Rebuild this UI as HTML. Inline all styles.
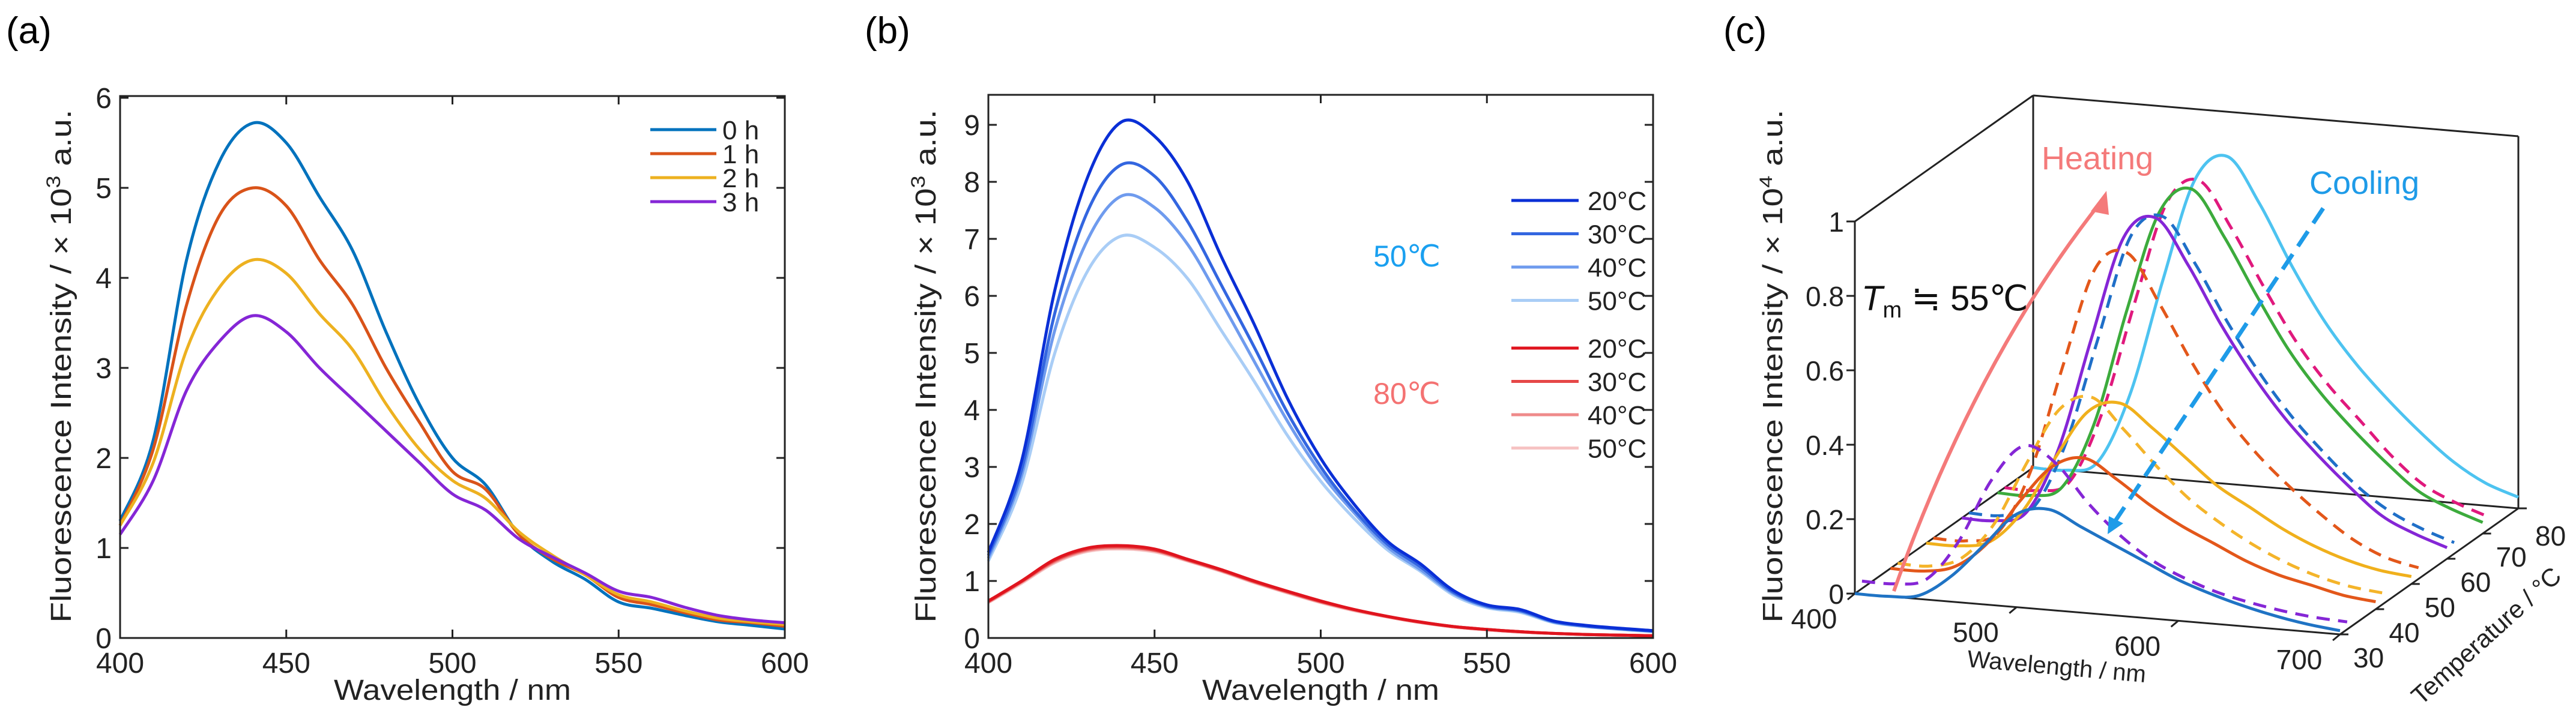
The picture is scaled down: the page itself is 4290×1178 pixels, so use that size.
<!DOCTYPE html>
<html><head><meta charset="utf-8"><style>
html,body{margin:0;padding:0;background:#fff;}
svg{display:block;font-family:"Liberation Sans",sans-serif;}
</style></head><body>
<svg id="fig" width="4290" height="1178" viewBox="0 0 4290 1178" xmlns="http://www.w3.org/2000/svg">
<rect width="4290" height="1178" fill="#fff"/>
<text x="10" y="72" font-size="62">(a)</text>
<text x="1440" y="72" font-size="62">(b)</text>
<text x="2870" y="72" font-size="62">(c)</text>
<g id="pa"></g>
<g id="pb"></g>
<g id="pc"></g>
</svg>
<script>
// ---------- Panel (a) data ----------
const aWavelengths = [400,410,420,430,440,450,460,470,480,490,500,510,520,530,540,550,560,570,580,590,600];
const aSeries0h = [1.3,2.2,4.2,5.3,5.72,5.5,4.9,4.3,3.4,2.6,2.0,1.7,1.15,0.85,0.65,0.4,0.33,0.25,0.18,0.14,0.1];
const aSeries1h = [1.25,2.1,3.7,4.7,5.0,4.8,4.2,3.7,3.0,2.4,1.85,1.65,1.15,0.88,0.7,0.45,0.37,0.28,0.2,0.17,0.13];
const aSeries2h = [1.25,1.95,3.2,3.9,4.2,4.05,3.6,3.2,2.6,2.1,1.75,1.55,1.18,0.92,0.7,0.48,0.4,0.3,0.22,0.18,0.15];
const aSeries3h = [1.15,1.75,2.75,3.3,3.58,3.4,3.0,2.65,2.3,1.95,1.6,1.42,1.1,0.9,0.72,0.52,0.45,0.34,0.25,0.2,0.17];
const aLegend = ["0 h","1 h","2 h","3 h"];
const aXTicks = [400,450,500,550,600];
const aYTicks = [0,1,2,3,4,5,6];
// ---------- Panel (b) data ----------
const bWavelengths = [400,410,420,430,440,450,460,470,480,490,500,510,520,530,540,550,560,570,580,590,600];
const b50_20 = [1.5,3.1,6.1,8.1,9.05,8.8,8.0,6.7,5.5,4.2,3.15,2.35,1.7,1.3,0.83,0.58,0.5,0.3,0.22,0.17,0.13];
const b50_30 = [1.45,2.95,5.7,7.5,8.3,8.1,7.3,6.2,5.1,3.95,3.0,2.25,1.65,1.25,0.8,0.56,0.48,0.29,0.21,0.16,0.12];
const b50_40 = [1.4,2.85,5.4,7.0,7.75,7.55,6.9,5.9,4.85,3.8,2.9,2.2,1.6,1.2,0.78,0.55,0.47,0.28,0.2,0.16,0.12];
const b50_50 = [1.35,2.7,5.0,6.45,7.05,6.85,6.3,5.4,4.5,3.55,2.75,2.1,1.55,1.17,0.75,0.53,0.45,0.27,0.2,0.15,0.11];
const b80_20 = [0.65,1.0,1.38,1.58,1.62,1.56,1.38,1.2,1.0,0.82,0.65,0.5,0.38,0.28,0.2,0.15,0.11,0.08,0.06,0.05,0.04];
const b80_30 = [0.64,0.99,1.36,1.56,1.6,1.54,1.37,1.19,0.99,0.81,0.64,0.5,0.38,0.28,0.2,0.15,0.11,0.08,0.06,0.05,0.04];
const b80_40 = [0.63,0.98,1.34,1.54,1.58,1.53,1.36,1.18,0.98,0.8,0.63,0.49,0.37,0.27,0.2,0.15,0.11,0.08,0.06,0.05,0.04];
const b80_50 = [0.62,0.96,1.32,1.52,1.56,1.51,1.35,1.17,0.97,0.79,0.62,0.48,0.37,0.27,0.19,0.14,0.1,0.08,0.06,0.05,0.04];
const bLegend = ["20°C","30°C","40°C","50°C"];
const bXTicks = [400,450,500,550,600];
const bYTicks = [0,1,2,3,4,5,6,7,8,9];
// ---------- Panel (c) data ----------
const cWavelengths = [400,420,440,460,480,500,520,540,560,580,600,620,640,660,680,700];
const cTemps = [80,70,70,60,60,50,50,40,40,30,30];
const cH80 = [0,0,0.03,0.22,0.53,0.81,0.88,0.76,0.6,0.46,0.35,0.26,0.18,0.11,0.06,0.03];
const cC70 = [0,0,0.03,0.22,0.52,0.8,0.87,0.75,0.6,0.46,0.35,0.26,0.17,0.1,0.06,0.03];
const cH70 = [0,0,0.03,0.21,0.52,0.79,0.86,0.74,0.59,0.45,0.34,0.25,0.17,0.1,0.06,0.03];
const cC60 = [0,0,0.03,0.21,0.5,0.78,0.84,0.72,0.57,0.44,0.33,0.24,0.16,0.1,0.06,0.03];
const cH60 = [0,0,0.03,0.21,0.51,0.79,0.85,0.73,0.58,0.45,0.34,0.25,0.17,0.1,0.06,0.03];
const cC50 = [0,0,0.03,0.2,0.49,0.76,0.81,0.68,0.53,0.4,0.3,0.22,0.15,0.09,0.05,0.03];
const cH50 = [0,0,0.02,0.11,0.26,0.39,0.42,0.36,0.29,0.22,0.17,0.12,0.08,0.05,0.03,0.02];
const cC40 = [0,0,0.03,0.13,0.3,0.45,0.49,0.41,0.32,0.24,0.18,0.13,0.09,0.06,0.04,0.03];
const cH40 = [0,0,0.02,0.09,0.21,0.31,0.34,0.29,0.23,0.18,0.14,0.1,0.07,0.05,0.03,0.02];
const cC30 = [0.02,0.02,0.04,0.15,0.32,0.42,0.38,0.28,0.2,0.14,0.1,0.07,0.05,0.035,0.025,0.02];
const cH30 = [0,0,0.01,0.07,0.16,0.25,0.27,0.23,0.19,0.15,0.11,0.08,0.055,0.035,0.02,0.01];
const cZTicks = [0,0.2,0.4,0.6,0.8,1];
const cWTicks = [400,500,600,700];
const cTTicks = [30,40,50,60,70,80];

const NS="http://www.w3.org/2000/svg";
function mk(parent,tag,attrs){const e=document.createElementNS(NS,tag);for(const k in attrs)e.setAttribute(k,attrs[k]);parent.appendChild(e);return e;}
function smooth(pts){let d="M"+pts[0][0].toFixed(1)+","+pts[0][1].toFixed(1);
 for(let i=0;i<pts.length-1;i++){const p0=pts[i-1]||pts[i],p1=pts[i],p2=pts[i+1],p3=pts[i+2]||p2;
  const c1=[p1[0]+(p2[0]-p0[0])/6,p1[1]+(p2[1]-p0[1])/6],c2=[p2[0]-(p3[0]-p1[0])/6,p2[1]-(p3[1]-p1[1])/6];
  d+=" C"+c1[0].toFixed(1)+","+c1[1].toFixed(1)+" "+c2[0].toFixed(1)+","+c2[1].toFixed(1)+" "+p2[0].toFixed(1)+","+p2[1].toFixed(1);}
 return d;}

function panel2D(g,o){
 const X=v=>o.x0+(v-o.xmin)/(o.xmax-o.xmin)*(o.x1-o.x0);
 const Y=v=>o.y0-(v-o.ymin)/(o.ymax-o.ymin)*(o.y0-o.y1);
 o.series.forEach((s,i)=>{
  const p=mk(g,"path",{d:smooth(o.xs.map((w,j)=>[X(w),Y(s.v[j])])),fill:"none",stroke:s.c,"stroke-width":5,"stroke-linejoin":"round"});
  
  
 });
 const box=mk(g,"rect",{x:o.x0,y:o.top,width:o.x1-o.x0,height:o.y0-o.top,fill:"none",stroke:"#222","stroke-width":3});
 
 
 o.xt.forEach(t=>{const x=X(t);
  mk(g,"line",{x1:x,x2:x,y1:o.y0,y2:o.y0-14,stroke:"#222","stroke-width":3});
  mk(g,"line",{x1:x,x2:x,y1:o.top,y2:o.top+14,stroke:"#222","stroke-width":3});
  const tx=mk(g,"text",{x:x,y:o.y0+58,"font-size":48,"text-anchor":"middle",fill:"#222"});tx.textContent=t;
  
  
 });
 o.yt.forEach(t=>{const y=Y(t);
  mk(g,"line",{x1:o.x0,x2:o.x0+14,y1:y,y2:y,stroke:"#222","stroke-width":3});
  mk(g,"line",{x1:o.x1,x2:o.x1-14,y1:y,y2:y,stroke:"#222","stroke-width":3});
  const ty=mk(g,"text",{x:o.x0-14,y:y+17,"font-size":48,"text-anchor":"end",fill:"#222"});ty.textContent=t;
  
  
 });
 const xt=mk(g,"text",{x:(o.x0+o.x1)/2+o.xtOff,y:1166,"font-size":48,"text-anchor":"middle",fill:"#222",textLength:395,lengthAdjust:"spacingAndGlyphs"});
 xt.textContent="Wavelength / nm";
 
 
 const yt=mk(g,"text",{x:0,y:0,"font-size":48,"text-anchor":"middle",fill:"#222",textLength:855,lengthAdjust:"spacingAndGlyphs",transform:"translate("+o.ytx+",610) rotate(-90)"});
 yt.innerHTML='Fluorescence Intensity / × 10<tspan dy="-18" font-size="32">3</tspan><tspan dy="18"> a.u.</tspan>';
 
 
 return {X,Y};
}

// Panel a
const ga=document.getElementById("pa");
const aCols=["#0072BD","#D95319","#EDB120","#8526d6"];
panel2D(ga,{x0:200,x1:1307,y0:1063,y1:163,top:160,xmin:400,xmax:600,ymin:0,ymax:6,xs:aWavelengths,
 series:[{n:"0h",v:aSeries0h,c:aCols[0]},{n:"1h",v:aSeries1h,c:aCols[1]},{n:"2h",v:aSeries2h,c:aCols[2]},{n:"3h",v:aSeries3h,c:aCols[3]}],
 xt:aXTicks,yt:aYTicks,xtOff:0,ytx:118});
aLegend.forEach((l,i)=>{const y=216+i*40;
 const ln=mk(ga,"line",{x1:1083,x2:1193,y1:y,y2:y,stroke:aCols[i],"stroke-width":5});
 
 
 const t=mk(ga,"text",{x:1203,y:y+16,"font-size":44,fill:"#222"});t.textContent=l;
 
 
});

// Panel b
const gb=document.getElementById("pb");
const bBlue=["#0a2fd6","#3366e0","#6f9bee","#a9cdf6"], bRed=["#e0141e","#e64848","#ef8a8a","#f6c3c3"];
panel2D(gb,{x0:1646,x1:2753,y0:1063,y1:208,top:158,xmin:400,xmax:600,ymin:0,ymax:9,xs:bWavelengths,
 series:[{n:"50-50C",v:b50_50,c:bBlue[3]},{n:"50-40C",v:b50_40,c:bBlue[2]},{n:"50-30C",v:b50_30,c:bBlue[1]},{n:"50-20C",v:b50_20,c:bBlue[0]},
 {n:"80-50C",v:b80_50,c:bRed[3]},{n:"80-40C",v:b80_40,c:bRed[2]},{n:"80-30C",v:b80_30,c:bRed[1]},{n:"80-20C",v:b80_20,c:bRed[0]}],
 xt:bXTicks,yt:bYTicks,xtOff:0,ytx:1558});
[[334,bBlue],[580,bRed]].forEach(([y0,cols])=>{bLegend.forEach((l,i)=>{const y=y0+i*55.5;
 const ln=mk(gb,"line",{x1:2517,x2:2629,y1:y,y2:y,stroke:cols[i],"stroke-width":5});
 
 
 const t=mk(gb,"text",{x:2644,y:y+16,"font-size":44,fill:"#222"});t.textContent=l;
 
 
});});
const g50=mk(gb,"text",{x:2343,y:444,"font-size":50,"text-anchor":"middle",fill:"#1aa0f0"});g50.textContent="50℃";


const g80=mk(gb,"text",{x:2343,y:673,"font-size":50,"text-anchor":"middle",fill:"#f47272"});g80.textContent="80℃";



// Panel c (3D)
const gc=document.getElementById("pc");
function P(w,T,z){return [3089+(w-400)*808/300+(T-30)*297/50, 989+(w-400)*68/300-(T-30)*210/50-z*620];}
const L=(a,b,attrs)=>mk(gc,"line",Object.assign({x1:a[0],y1:a[1],x2:b[0],y2:b[1],stroke:"#222","stroke-width":3},attrs||{}));
// box edges
[[P(400,80,0),P(400,80,1)],[P(700,80,0),P(700,80,1)],[P(400,80,1),P(700,80,1)],[P(400,30,1),P(400,80,1)],
 [P(400,30,0),P(400,30,1)],[P(400,30,0),P(700,30,0)],[P(700,30,0),P(700,80,0)],[P(400,80,0),P(700,80,0)],[P(400,30,0),P(400,80,0)]].forEach(e=>{
 const l=L(e[0],e[1]);
 
 
});
cZTicks.forEach(t=>{const p=P(400,30,t);
 mk(gc,"line",{x1:p[0]-14,x2:p[0],y1:p[1],y2:p[1],stroke:"#222","stroke-width":3});
 const tx=mk(gc,"text",{x:p[0]-18,y:p[1]+17,"font-size":46,"text-anchor":"end",fill:"#222"});tx.textContent=t;
 
 
});
cWTicks.forEach(t=>{const p=P(t,30,0);
 mk(gc,"line",{x1:p[0],x2:p[0]-12,y1:p[1],y2:p[1]+10,stroke:"#222","stroke-width":3});
 const tx=mk(gc,"text",{x:p[0]-68,y:p[1]+58,"font-size":46,"text-anchor":"middle",fill:"#222"});tx.textContent=t;
 
 
});
cTTicks.forEach(t=>{const p=P(700,t,0);
 mk(gc,"line",{x1:p[0],x2:p[0]+14,y1:p[1],y2:p[1],stroke:"#222","stroke-width":3});
 const tx=mk(gc,"text",{x:p[0]+(t===80?28:22),y:p[1]+(t===80?62:55),"font-size":46,fill:"#222"});tx.textContent=t;
 
 
});
const cSeries=[
 {n:"heat-80",v:cH80,c:"#4dc3f0",d:false},{n:"cool-70",v:cC70,c:"#e0197d",d:true},{n:"heat-70",v:cH70,c:"#3cab3c",d:false},
 {n:"cool-60",v:cC60,c:"#1f6fc8",d:true},{n:"heat-60",v:cH60,c:"#8526d6",d:false},{n:"cool-50",v:cC50,c:"#e3571a",d:true},
 {n:"heat-50",v:cH50,c:"#f0b01c",d:false},{n:"cool-40",v:cC40,c:"#f4b42a",d:true},{n:"heat-40",v:cH40,c:"#e3571a",d:false},
 {n:"cool-30",v:cC30,c:"#8526d6",d:true},{n:"heat-30",v:cH30,c:"#1f73c4",d:false}];
cSeries.forEach((s,i)=>{const T=cTemps[i]+(s.d?2:0);
 const p=mk(gc,"path",{d:smooth(cWavelengths.map((w,j)=>P(w,T,s.v[j]))),fill:"none",stroke:s.c,"stroke-width":5,"stroke-linejoin":"round"});
 if(s.d)p.setAttribute("stroke-dasharray","22 14");
 
 
});
// arrows
const ha=mk(gc,"path",{d:"M3154,985 Q3290,600 3500,335",fill:"none",stroke:"#f47a7a","stroke-width":6});


const hh=mk(gc,"polygon",{points:"3508,318 3482,352 3512,358",fill:"#f47a7a"});


const ca=mk(gc,"line",{x1:3869,y1:347,x2:3518,y2:875,stroke:"#1e9be8","stroke-width":7,"stroke-dasharray":"30 16"});


const ch=mk(gc,"polygon",{points:"3510,890 3512,860 3536,872",fill:"#1e9be8"});


const ht=mk(gc,"text",{x:3400,y:282,"font-size":54,fill:"#f47a7a"});ht.textContent="Heating";


const ct=mk(gc,"text",{x:3846,y:323,"font-size":54,fill:"#1e9be8"});ct.textContent="Cooling";


const tm=mk(gc,"text",{x:3100,y:517,"font-size":58,fill:"#111"});
tm.innerHTML='<tspan font-style="italic">T</tspan><tspan font-size="38" dy="12">m</tspan><tspan dy="-12"> ≒ 55℃</tspan>';


const cy=mk(gc,"text",{x:0,y:0,"font-size":46,"text-anchor":"middle",fill:"#222",textLength:855,lengthAdjust:"spacingAndGlyphs",transform:"translate(2968,610) rotate(-90)"});
cy.innerHTML='Fluorescence Intensity / × 10<tspan dy="-17" font-size="30">4</tspan><tspan dy="17"> a.u.</tspan>';


const cx=mk(gc,"text",{x:0,y:0,"font-size":40,"text-anchor":"middle",fill:"#222",transform:"translate(3424,1124) rotate(5)"});cx.textContent="Wavelength / nm";


const ctt=mk(gc,"text",{x:0,y:0,"font-size":42,"text-anchor":"middle",fill:"#222",transform:"translate(4150,1070) rotate(-42)"});ctt.textContent="Temperature / °C";


</script>
</body></html>
